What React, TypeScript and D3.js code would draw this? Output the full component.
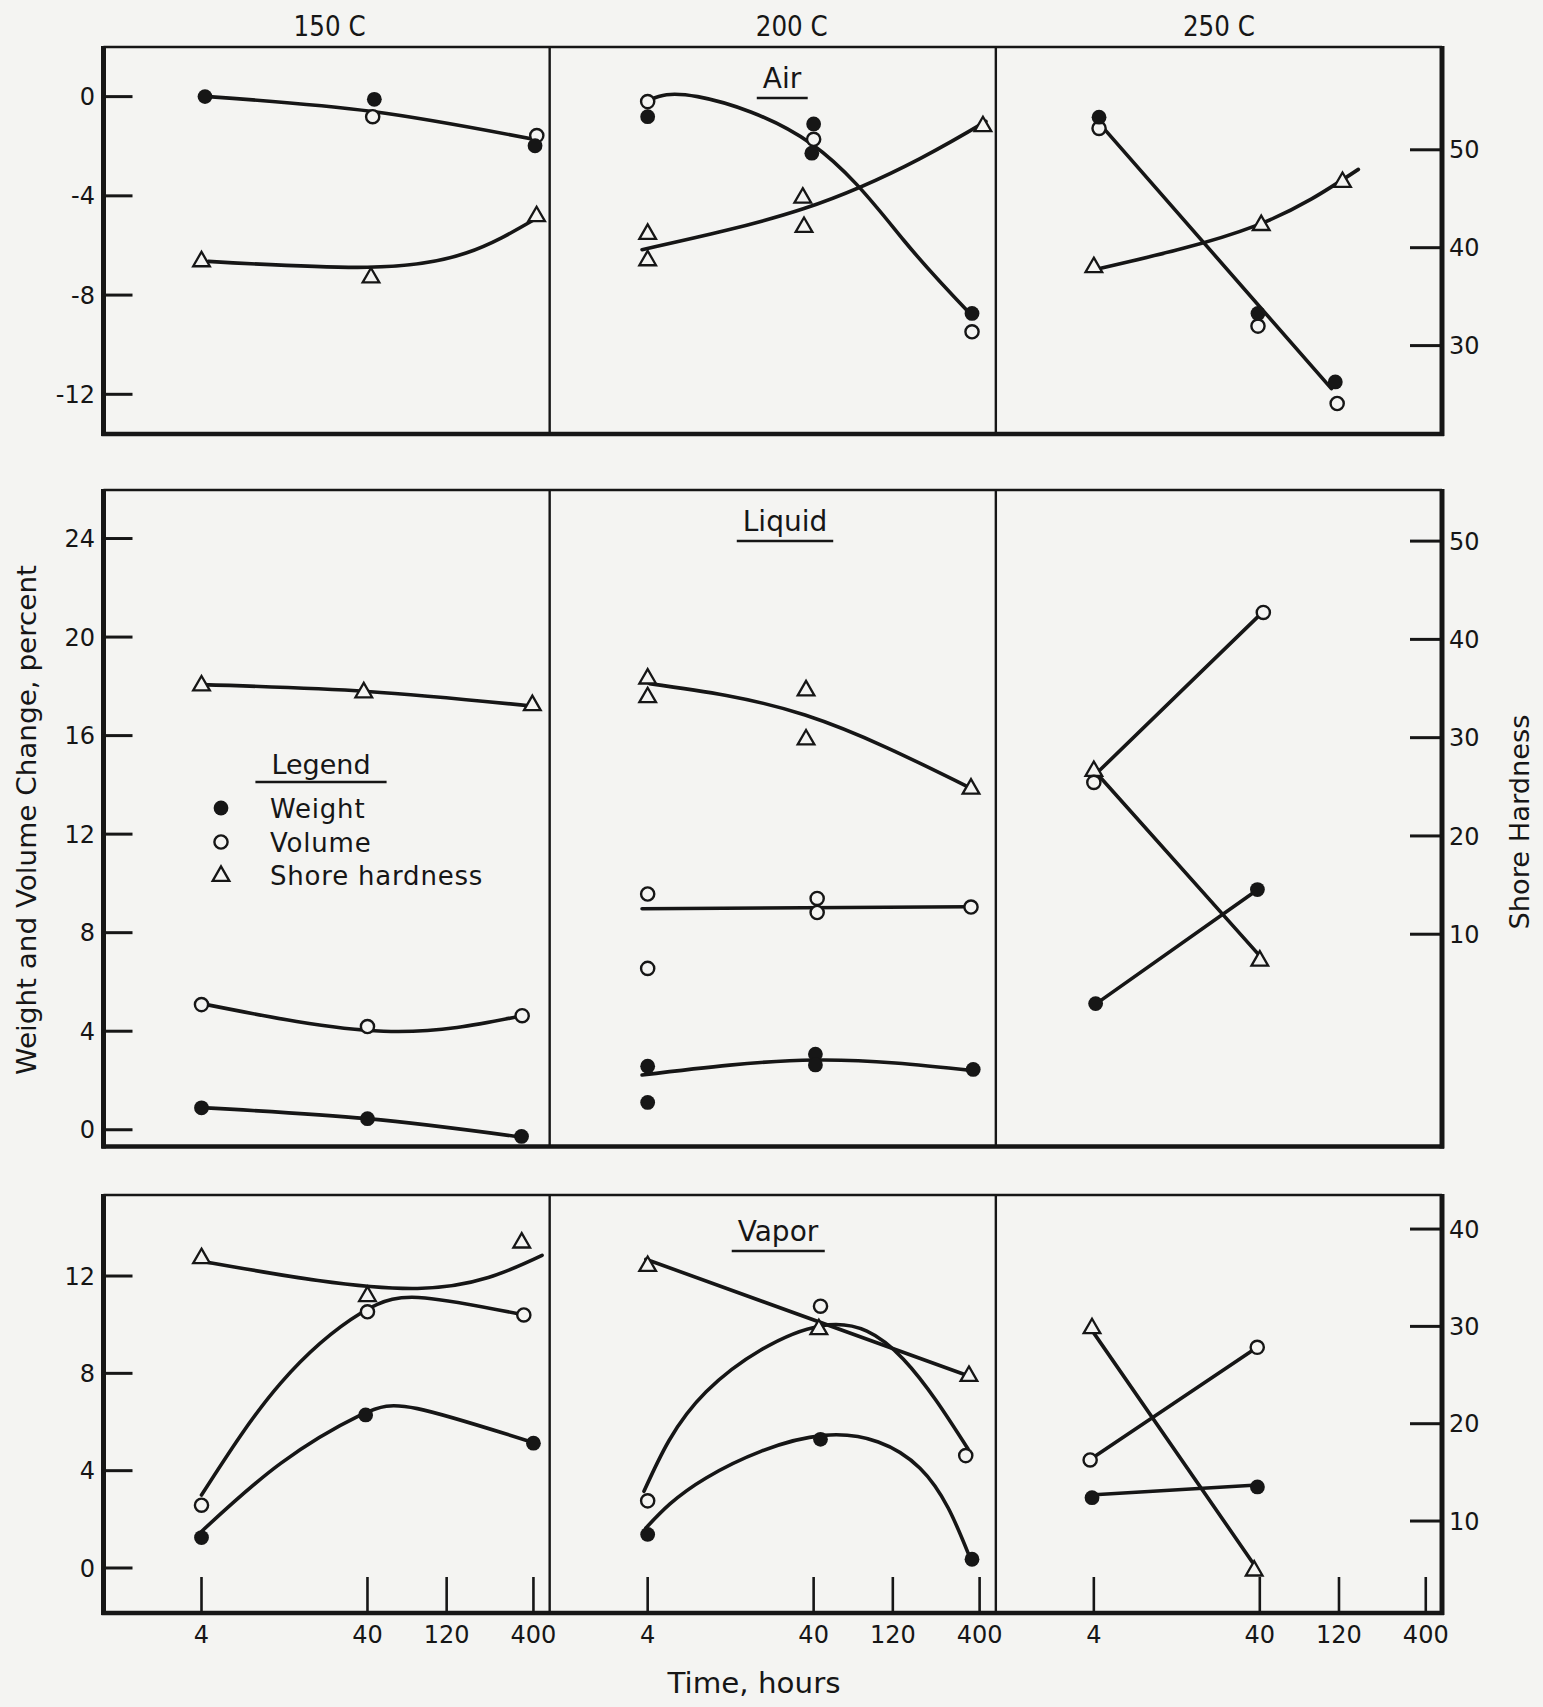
import * as d3 from 'd3';
import React, { useEffect, useRef } from 'react';

// panel labels
const temps = ['150 C', '200 C', '250 C'];
const media = ['Air', 'Liquid', 'Vapor'];

// axis ticks
const timeTicks = [4, 40, 120, 400];
const pctTicks = [[0, -4, -8, -12], [24, 20, 16, 12, 8, 4, 0], [12, 8, 4, 0]];
const hardTicks = [[50, 40, 30], [50, 40, 30, 20, 10], [40, 30, 20, 10]];
const pctDomains = [[-13.6, 2.0], [-0.68, 25.97], [-1.85, 15.33]];
const hardDomains = [[20.97, 60.5], [-11.6, 55.2], [0.55, 43.5]];
const timeDomain = [1.027, 501];

// measured points: [row, col, hours, value]
const weightPts = [
  [0, 0, 4.2, 0.0], [0, 0, 44, -0.11], [0, 0, 409, -1.98],
  [0, 1, 4, -0.81], [0, 1, 40, -1.1], [0, 1, 39, -2.28], [0, 1, 360, -8.74],
  [0, 2, 4.3, -0.83], [0, 2, 39, -8.74], [0, 2, 114, -11.5],
  [1, 0, 4, 0.89], [1, 0, 40, 0.45], [1, 0, 339, -0.27],
  [1, 1, 4, 2.58], [1, 1, 4, 1.11], [1, 1, 41, 3.07], [1, 1, 41, 2.63], [1, 1, 366, 2.45],
  [1, 2, 4.1, 5.12], [1, 2, 38.7, 9.75],
  [2, 0, 4, 1.25], [2, 0, 39, 6.29], [2, 0, 400, 5.13],
  [2, 1, 4, 1.38], [2, 1, 44, 5.29], [2, 1, 360, 0.36],
  [2, 2, 3.9, 2.89], [2, 2, 38.7, 3.33],
];
const volumePts = [
  [0, 0, 43, -0.81], [0, 0, 419, -1.57],
  [0, 1, 4, -0.2], [0, 1, 40, -1.72], [0, 1, 360, -9.48],
  [0, 2, 4.3, -1.28], [0, 2, 39, -9.25], [0, 2, 117, -12.37],
  [1, 0, 4, 5.08], [1, 0, 40, 4.19], [1, 0, 342, 4.63],
  [1, 1, 4, 9.57], [1, 1, 4, 6.55], [1, 1, 42, 9.39], [1, 1, 42, 8.82], [1, 1, 355, 9.04],
  [1, 2, 4, 14.1], [1, 2, 42, 21.0],
  [2, 0, 4, 2.58], [2, 0, 40, 10.53], [2, 0, 350, 10.4],
  [2, 1, 4, 2.76], [2, 1, 44, 10.76], [2, 1, 330, 4.62],
  [2, 2, 3.8, 4.44], [2, 2, 38.6, 9.07],
];
const hardPts = [
  [0, 0, 4, 38.7], [0, 0, 42, 37.05], [0, 0, 418, 43.3],
  [0, 1, 4, 41.5], [0, 1, 4, 38.8], [0, 1, 34.4, 45.2], [0, 1, 35, 42.2], [0, 1, 419, 52.5],
  [0, 2, 4, 38.1], [0, 2, 40.8, 42.4], [0, 2, 126, 46.8],
  [1, 0, 4, 35.4], [1, 0, 38, 34.7], [1, 0, 394, 33.4],
  [1, 1, 4, 36.1], [1, 1, 4, 34.2], [1, 1, 36, 34.9], [1, 1, 36, 29.9], [1, 1, 355, 24.9],
  [1, 2, 4, 26.7], [1, 2, 40, 7.4],
  [2, 0, 4, 37.1], [2, 0, 40, 33.2], [2, 0, 340, 38.7],
  [2, 1, 4, 36.3], [2, 1, 43, 29.8], [2, 1, 345, 25.0],
  [2, 2, 3.9, 29.9], [2, 2, 37, 5.0],
];

// hand drawn fit curves: row, col, [hours, value] list
const weightFits = [
  [0, 0, [[4.4, 0], [43, -0.6], [424, -1.75]]],
  [0, 1, [[4.1, -0.13], [8, 0.0], [38.7, -1.9], [140, -5.8], [345, -8.7]]],
  [0, 2, [[4.4, -1.14], [108, -11.77]]],
  [1, 0, [[4, 0.9], [40, 0.45], [340, -0.3]]],
  [1, 1, [[3.7, 2.22], [40.6, 2.83], [365, 2.4]]],
  [1, 2, [[4.1, 5.1], [38, 9.7]]],
  [2, 0, [[4, 1.5], [12, 4.3], [36, 6.27], [80, 6.55], [380, 5.2]]],
  [2, 1, [[3.9, 1.64], [9, 3.7], [46, 5.45], [175, 4.1], [344, 0.55]]],
  [2, 2, [[3.8, 3.0], [38.6, 3.41]]],
];
const volumeFits = [
  [1, 0, [[4, 5.12], [50, 4.0], [342, 4.63]]],
  [1, 1, [[3.7, 8.97], [350, 9.05]]],
  [1, 2, [[4.2, 14.5], [40, 20.9]]],
  [2, 0, [[4, 3.0], [12, 7.6], [37, 10.5], [89, 11.1], [350, 10.4]]],
  [2, 1, [[3.8, 3.15], [9, 7.24], [44, 9.95], [139, 8.58], [340, 4.9]]],
  [2, 2, [[3.8, 4.46], [38.6, 9.07]]],
];
const hardFits = [
  [0, 0, [[4.4, 38.6], [40, 38.0], [157, 39.45], [403, 42.85]]],
  [0, 1, [[3.7, 39.8], [35, 44.0], [175, 49.1], [437, 52.9]]],
  [0, 2, [[4.4, 37.9], [37.2, 42.2], [157, 48.0]]],
  [1, 0, [[4, 35.4], [40, 34.7], [400, 33.2]]],
  [1, 1, [[4.1, 35.5], [35.5, 32.3], [350, 24.9]]],
  [1, 2, [[4.2, 26.3], [40, 7.8]]],
  [2, 0, [[4, 36.7], [80, 33.9], [451, 37.3]]],
  [2, 1, [[3.9, 36.9], [344, 24.9]]],
  [2, 2, [[3.75, 30.0], [36, 5.8]]],
];

const legendItems = ['Weight', 'Volume', 'Shore hardness'];

const W = 1543, H = 1707;
const INK = '#161616', BG = '#f4f4f2';
const FONT = '"DejaVu Sans", sans-serif';

const App = () => {
  const ref = useRef<SVGSVGElement>(null);

  useEffect(() => {
    const svg = d3.select(ref.current);
    svg.selectAll('*').remove();

    const left = 103.5, right = 1442;
    const rowTops = [47, 490, 1195];
    const rowBottoms = [434, 1146.5, 1613];
    const colW = (right - left) / 3;

    svg.append('rect').attr('width', W).attr('height', H).attr('fill', BG);

    const xs = [0, 1, 2].map(c => d3.scaleLog().domain(timeDomain).range([left + c * colW, left + (c + 1) * colW]));
    const yL = [0, 1, 2].map(r => d3.scaleLinear().domain(pctDomains[r]).range([rowBottoms[r], rowTops[r]]));
    const yR = [0, 1, 2].map(r => d3.scaleLinear().domain(hardDomains[r]).range([rowBottoms[r], rowTops[r]]));

    const g = svg.append('g');

    // frames
    rowTops.forEach((top, r) => {
      const bot = rowBottoms[r];
      g.append('line').attr('x1', left).attr('x2', right).attr('y1', top).attr('y2', top)
        .attr('stroke', INK).attr('stroke-width', 2.4);
      g.append('line').attr('x1', left - 2).attr('x2', right + 2).attr('y1', bot).attr('y2', bot)
        .attr('stroke', INK).attr('stroke-width', 4.5);
      [left, right].forEach(x => {
        g.append('line').attr('x1', x).attr('x2', x).attr('y1', top - 1).attr('y2', bot + 2)
          .attr('stroke', INK).attr('stroke-width', 5);
      });
      [1, 2].forEach(c => {
        const x = left + c * colW;
        g.append('line').attr('x1', x).attr('x2', x).attr('y1', top).attr('y2', bot)
          .attr('stroke', INK).attr('stroke-width', 2.4);
      });

      // left ticks
      pctTicks[r].forEach(v => {
        const y = yL[r](v);
        g.append('line').attr('x1', left).attr('x2', left + 29).attr('y1', y).attr('y2', y)
          .attr('stroke', INK).attr('stroke-width', 3);
        g.append('text').attr('x', 95).attr('y', y).attr('dy', '0.36em').attr('text-anchor', 'end')
          .attr('font-size', 24).attr('font-family', FONT).attr('fill', INK).text(v);
      });
      // right ticks
      hardTicks[r].forEach(v => {
        const y = yR[r](v);
        g.append('line').attr('x1', right - 32).attr('x2', right).attr('y1', y).attr('y2', y)
          .attr('stroke', INK).attr('stroke-width', 3);
        g.append('text').attr('x', 1449).attr('y', y).attr('dy', '0.36em').attr('text-anchor', 'start')
          .attr('font-size', 24).attr('font-family', FONT).attr('fill', INK).text(v);
      });
    });

    // x ticks on the bottom row
    xs.forEach(x => {
      timeTicks.forEach(t => {
        g.append('line').attr('x1', x(t)).attr('x2', x(t)).attr('y1', rowBottoms[2]).attr('y2', rowBottoms[2] - 36)
          .attr('stroke', INK).attr('stroke-width', 2.6);
        g.append('text').attr('x', x(t)).attr('y', 1643).attr('text-anchor', 'middle')
          .attr('font-size', 24).attr('font-family', FONT).attr('fill', INK).text(t);
      });
    });

    // column titles
    const titleOff = [3, 19, 0];
    temps.forEach((t, c) => {
      g.append('text').attr('x', left + (c + 0.5) * colW + titleOff[c]).attr('y', 36)
        .attr('text-anchor', 'middle').attr('font-size', 28).attr('font-family', FONT).attr('fill', INK)
        .attr('textLength', 72).attr('lengthAdjust', 'spacingAndGlyphs').text(t);
    });

    // medium labels, underlined
    const mediumY = [88, 531, 1241];
    const mediumX = [782, 785, 778];
    media.forEach((m, r) => {
      const tx = g.append('text').attr('x', mediumX[r]).attr('y', mediumY[r]).attr('text-anchor', 'middle')
        .attr('font-size', 28).attr('font-family', FONT).attr('fill', INK).text(m);
      const bb = (tx.node() as SVGTextElement).getBBox();
      g.append('line').attr('x1', bb.x - 6).attr('x2', bb.x + bb.width + 6)
        .attr('y1', mediumY[r] + 10).attr('y2', mediumY[r] + 10).attr('stroke', INK).attr('stroke-width', 2.6);
    });

    // curves
    const drawFits = (fits: any[], yScales: any[]) => {
      fits.forEach(([r, c, pts]) => {
        const line = d3.line<number[]>()
          .x(d => xs[c](d[0]))
          .y(d => yScales[r](d[1]))
          .curve(d3.curveNatural);
        g.append('path').attr('d', line(pts)).attr('fill', 'none')
          .attr('stroke', INK).attr('stroke-width', 3.6).attr('stroke-linecap', 'round');
      });
    };
    drawFits(weightFits, yL);
    drawFits(volumeFits, yL);
    drawFits(hardFits, yR);

    const tri = d3.symbol().type(d3.symbolTriangle).size(120);

    const filled = (sel: any, x: number, y: number) =>
      sel.append('circle').attr('cx', x).attr('cy', y).attr('r', 7.4).attr('fill', INK);
    const open = (sel: any, x: number, y: number) =>
      sel.append('circle').attr('cx', x).attr('cy', y).attr('r', 6.6).attr('fill', BG)
        .attr('stroke', INK).attr('stroke-width', 2.4);
    const triangle = (sel: any, x: number, y: number) =>
      sel.append('path').attr('d', tri()).attr('transform', `translate(${x},${y + 1})`)
        .attr('fill', BG).attr('stroke', INK).attr('stroke-width', 2.3);

    hardPts.forEach(([r, c, t, v]) => triangle(g, xs[c](t), yR[r](v)));
    volumePts.forEach(([r, c, t, v]) => open(g, xs[c](t), yL[r](v)));
    weightPts.forEach(([r, c, t, v]) => filled(g, xs[c](t), yL[r](v)));

    // legend
    const lg = g.append('g');
    const lt = lg.append('text').attr('x', 321).attr('y', 774).attr('text-anchor', 'middle')
      .attr('font-size', 27).attr('font-family', FONT).attr('fill', INK).text('Legend');
    const lb = (lt.node() as SVGTextElement).getBBox();
    lg.append('line').attr('x1', lb.x - 16).attr('x2', lb.x + lb.width + 16).attr('y1', 782).attr('y2', 782)
      .attr('stroke', INK).attr('stroke-width', 2.6);
    const legY = [808, 842, 875];
    const markFns = [filled, open, triangle];
    legendItems.forEach((name, i) => {
      markFns[i](lg, 221, legY[i]);
      lg.append('text').attr('x', 270).attr('y', legY[i] + 10).attr('font-size', 26)
        .attr('font-family', FONT).attr('fill', INK).attr('letter-spacing', 0.8).text(name);
    });

    // axis titles
    g.append('text').attr('transform', 'translate(36,820) rotate(-90)').attr('text-anchor', 'middle')
      .attr('font-size', 26).attr('font-family', FONT).attr('fill', INK)
      .attr('textLength', 510).attr('lengthAdjust', 'spacingAndGlyphs')
      .text('Weight and Volume Change, percent');
    g.append('text').attr('transform', 'translate(1529,822) rotate(-90)').attr('text-anchor', 'middle')
      .attr('font-size', 26).attr('font-family', FONT).attr('fill', INK)
      .attr('textLength', 215).attr('lengthAdjust', 'spacingAndGlyphs')
      .text('Shore Hardness');
    g.append('text').attr('x', 754).attr('y', 1693).attr('text-anchor', 'middle')
      .attr('font-size', 28).attr('font-family', FONT).attr('fill', INK)
      .attr('textLength', 173).attr('lengthAdjust', 'spacingAndGlyphs')
      .text('Time, hours');
  }, []);

  return (
    <svg ref={ref} width={W} height={H} style={{ position: 'absolute', left: 0, top: 0 }} />
  );
};

export default App;
